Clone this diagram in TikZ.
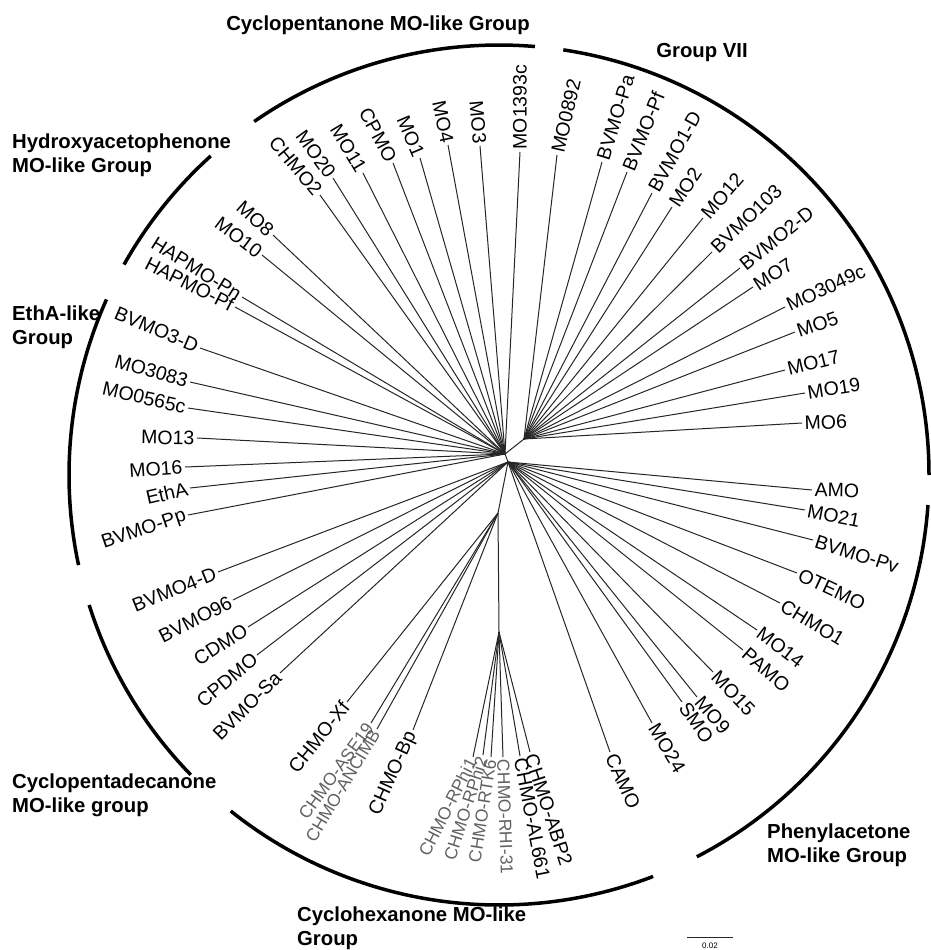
\documentclass[tikz,border=0pt]{standalone}
\usepackage{fontspec}
\setmainfont{Liberation Sans}
\newcommand\labfont{\fontsize{19.5}{21}\selectfont}
\newcommand\smlfont{\fontsize{17.5}{19}\selectfont}
\newcommand\grpfont{\fontsize{20.3}{24}\selectfont\bfseries}
\tikzset{
  branch/.style={line width=1pt, black!85},
  lab/.style={font=\labfont, inner sep=2.5pt},
  rgt/.style={lab, anchor=west, rotate=#1},
  lft/.style={lab, anchor=east, rotate=#1-180},
  faint/.style={text=black!62, font=\smlfont},
  grouparc/.style={line width=3.5pt},
  grouplab/.style={font=\grpfont, align=left, anchor=west, inner sep=0pt},
}
\begin{document}
\begin{tikzpicture}[x=1pt, y=-1pt]
  \useasboundingbox (0,0) rectangle (931,950);
  % inner nodes of the tree
  \coordinate (root) at (505,454);
  \coordinate (g7) at (524,439);
  \coordinate (pa) at (508,462);
  \coordinate (chx) at (498,513);
  \coordinate (chx2) at (499,632);
  \coordinate (ctr) at (499,475);

  % Group VII
  \node[rgt=77] (mo0892) at (557,155) {MO0892};
  \node[rgt=73] (bvmopa) at (602,162) {BVMO-Pa};
  \node[rgt=68] (bvmopf) at (627,172) {BVMO-Pf};
  \node[rgt=61] (bvmo1d) at (652,193) {BVMO1-D};
  \node[rgt=56] (mo2) at (672,207) {MO2};
  \node[rgt=49] (mo12) at (703,218) {MO12};
  \node[rgt=44] (bvmo103) at (712,252) {BVMO103};
  \node[rgt=39] (bvmo2d) at (740,268) {BVMO2-D};
  \node[rgt=33] (mo7) at (753,287) {MO7};
  \node[rgt=25] (mo3049c) at (785,307) {MO3049c};
  \node[rgt=19] (mo5) at (795,332) {MO5};
  \node[rgt=14] (mo17) at (785,370) {MO17};
  \node[rgt=9] (mo19) at (805,393) {MO19};
  \node[rgt=2] (mo6) at (802,423) {MO6};

  % cyclopentanone
  \node[rgt=90] (mo1393c) at (520,152) {MO1393c};
  \node[lft=95] (mo3) at (480,146) {MO3};
  \node[lft=102] (mo4) at (448,145) {MO4};
  \node[lft=113] (mo1) at (420,158) {MO1};
  \node[lft=118] (cpmo) at (393,163) {CPMO};
  \node[lft=121] (mo11) at (363,173) {MO11};
  \node[lft=126] (mo20) at (333,178) {MO20};
  \node[lft=130] (chmo2) at (320,195) {CHMO2};

  % hydroxyacetophenone
  \node[lft=138] (mo8) at (273,235) {MO8};
  \node[lft=143] (mo10) at (262,255) {MO10};
  \node[lft=148] (hapmopn) at (242,297) {HAPMO-Pn};
  \node[lft=153] (hapmopf) at (235,307) {HAPMO-Pf};

  % EthA-like
  \node[lft=157] (bvmo3d) at (200,348) {BVMO3-D};
  \node[lft=164] (mo3083) at (190,382) {MO3083};
  \node[lft=167] (mo0565c) at (188,408) {MO0565c};
  \node[lft=179] (mo13) at (197,438) {MO13};
  \node[lft=184] (mo16) at (185,467) {MO16};
  \node[lft=193] (etha) at (190,488) {EthA};
  \node[lft=199] (bvmopp) at (188,515) {BVMO-Pp};

  % cyclopentadecanone
  \node[lft=202] (bvmo4d) at (218,572) {BVMO4-D};
  \node[lft=207] (bvmo96) at (233,600) {BVMO96};
  \node[lft=213] (cdmo) at (248,627) {CDMO};
  \node[lft=220] (cpdmo) at (257,655) {CPDMO};
  \node[lft=225] (bvmosa) at (280,673) {BVMO-Sa};

  % cyclohexanone
  \node[lft=231] (chmoxf) at (347,702) {CHMO-Xf};
  \node[lft=234, faint] (chmoase19) at (371,723) {CHMO-ASE19};
  \node[lft=239, faint] (chmoancimb) at (377,729) {CHMO-ANCIMB};
  \node[lft=246] (chmobp) at (413,730) {CHMO-Bp};
  \node[lft=243, faint] (chmorphi1) at (473,757) {CHMO-RPhi1};
  \node[lft=252, faint] (chmorphi2) at (483,755) {CHMO-RPhi2};
  \node[lft=261, faint] (chmortk6) at (491,757) {CHMO-RTK6};
  \node[rgt=-88, faint] (chmorhi31) at (503,757) {CHMO-RHI-31};
  \node[rgt=-79] (chmoal661) at (520,756) {CHMO-AL661};
  \node[rgt=-72] (chmoabp2) at (530,752) {CHMO-ABP2};

  % phenylacetone
  \node[rgt=-1] (amo) at (812,490) {AMO};
  \node[rgt=-11] (mo21) at (805,510) {MO21};
  \node[rgt=-18] (bvmopv) at (813,540) {BVMO-Pv};
  \node[rgt=-25] (otemo) at (797,573) {OTEMO};
  \node[rgt=-31] (chmo1) at (780,603) {CHMO1};
  \node[rgt=-37] (mo14) at (757,630) {MO14};
  \node[rgt=-41] (pamo) at (743,650) {PAMO};
  \node[rgt=-46] (mo15) at (713,672) {MO15};
  \node[rgt=-49] (mo9) at (697,697) {MO9};
  \node[rgt=-55] (smo) at (682,702) {SMO};
  \node[rgt=-59] (mo24) at (652,723) {MO24};
  \node[rgt=-66] (camo) at (610,752) {CAMO};

  \begin{scope}[branch]
    \draw (root) -- (g7);
    \draw (root) -- (pa);
    \draw (pa) -- (chx);
    \draw (chx) -- (chx2);
    \draw (g7) -- (mo0892.west);
    \draw (g7) -- (bvmopa.west);
    \draw (g7) -- (bvmopf.west);
    \draw (g7) -- (bvmo1d.west);
    \draw (g7) -- (mo2.west);
    \draw (g7) -- (mo12.west);
    \draw (g7) -- (bvmo103.west);
    \draw (g7) -- (bvmo2d.west);
    \draw (g7) -- (mo7.west);
    \draw (g7) -- (mo3049c.west);
    \draw (g7) -- (mo5.west);
    \draw (g7) -- (mo17.west);
    \draw (g7) -- (mo19.west);
    \draw (g7) -- (mo6.west);
    \draw (root) -- (mo1393c.west);
    \draw (root) -- (mo3.east);
    \draw (root) -- (mo4.east);
    \draw (root) -- (mo1.east);
    \draw (root) -- (cpmo.east);
    \draw (root) -- (mo11.east);
    \draw (root) -- (mo20.east);
    \draw (root) -- (chmo2.east);
    \draw (root) -- (mo8.east);
    \draw (root) -- (mo10.east);
    \draw (root) -- (hapmopn.east);
    \draw (root) -- (hapmopf.east);
    \draw (root) -- (bvmo3d.east);
    \draw (root) -- (mo3083.east);
    \draw (root) -- (mo0565c.east);
    \draw (root) -- (mo13.east);
    \draw (root) -- (mo16.east);
    \draw (root) -- (etha.east);
    \draw (root) -- (bvmopp.east);
    \draw (pa) -- (bvmo4d.east);
    \draw (pa) -- (bvmo96.east);
    \draw (pa) -- (cdmo.east);
    \draw (pa) -- (cpdmo.east);
    \draw (pa) -- (bvmosa.east);
    \draw (chx) -- (chmoxf.east);
    \draw (chx) -- (chmoase19.east);
    \draw (chx) -- (chmoancimb.east);
    \draw (chx) -- (chmobp.east);
    \draw (chx2) -- (chmorphi1.east);
    \draw (chx2) -- (chmorphi2.east);
    \draw (chx2) -- (chmortk6.east);
    \draw (chx2) -- (chmorhi31.west);
    \draw (chx2) -- (chmoal661.west);
    \draw (chx2) -- (chmoabp2.west);
    \draw (pa) -- (amo.west);
    \draw (pa) -- (mo21.west);
    \draw (pa) -- (bvmopv.west);
    \draw (pa) -- (otemo.west);
    \draw (pa) -- (chmo1.west);
    \draw (pa) -- (mo14.west);
    \draw (pa) -- (pamo.west);
    \draw (pa) -- (mo15.west);
    \draw (pa) -- (mo9.west);
    \draw (pa) -- (smo.west);
    \draw (pa) -- (mo24.west);
    \draw (pa) -- (camo.west);
  \end{scope}

  % group arcs
  \draw[grouparc] (ctr) ++(-124.7:430) arc[start angle=-124.7, end angle=-85.2, radius=430];
  \draw[grouparc] (ctr) ++(-81.4:430) arc[start angle=-81.4, end angle=0, radius=430];
  \draw[grouparc] (ctr) ++(4:430) arc[start angle=4, end angle=62.6, radius=430];
  \draw[grouparc] (ctr) ++(69:430) arc[start angle=69, end angle=128.6, radius=430];
  \draw[grouparc] (ctr) ++(-224.2:430) arc[start angle=-224.2, end angle=-197.6, radius=430];
  \draw[grouparc] (ctr) ++(-192.1:430) arc[start angle=-192.1, end angle=-155.9, radius=430];
  \draw[grouparc] (ctr) ++(-150.7:430) arc[start angle=-150.7, end angle=-132.1, radius=430];

  % group names
  \node[grouplab, anchor=center] (gcpn) at (378,25) {Cyclopentanone MO-like Group};
  \node[grouplab, anchor=center] (gsev) at (702,53) {Group VII};
  \node[grouplab] (ghap) at (12,155) {Hydroxyacetophenone\\MO-like Group};
  \node[grouplab] (geth) at (12,327) {EthA-like\\Group};
  \node[grouplab] (gcpd) at (12,795) {Cyclopentadecanone\\MO-like group};
  \node[grouplab] (gchx) at (297,928) {Cyclohexanone MO-like\\Group};
  \node[grouplab] (gphe) at (767,845) {Phenylacetone\\MO-like Group};

  % scale bar
  \coordinate (sbl) at (687,937);
  \coordinate (sbr) at (733,937);
  \draw[branch] (sbl) -- (sbr);
  \node[font=\fontsize{8}{9}\selectfont, inner sep=0pt] (sbtext) at (710,946) {0.02};
\end{tikzpicture}
\end{document}
